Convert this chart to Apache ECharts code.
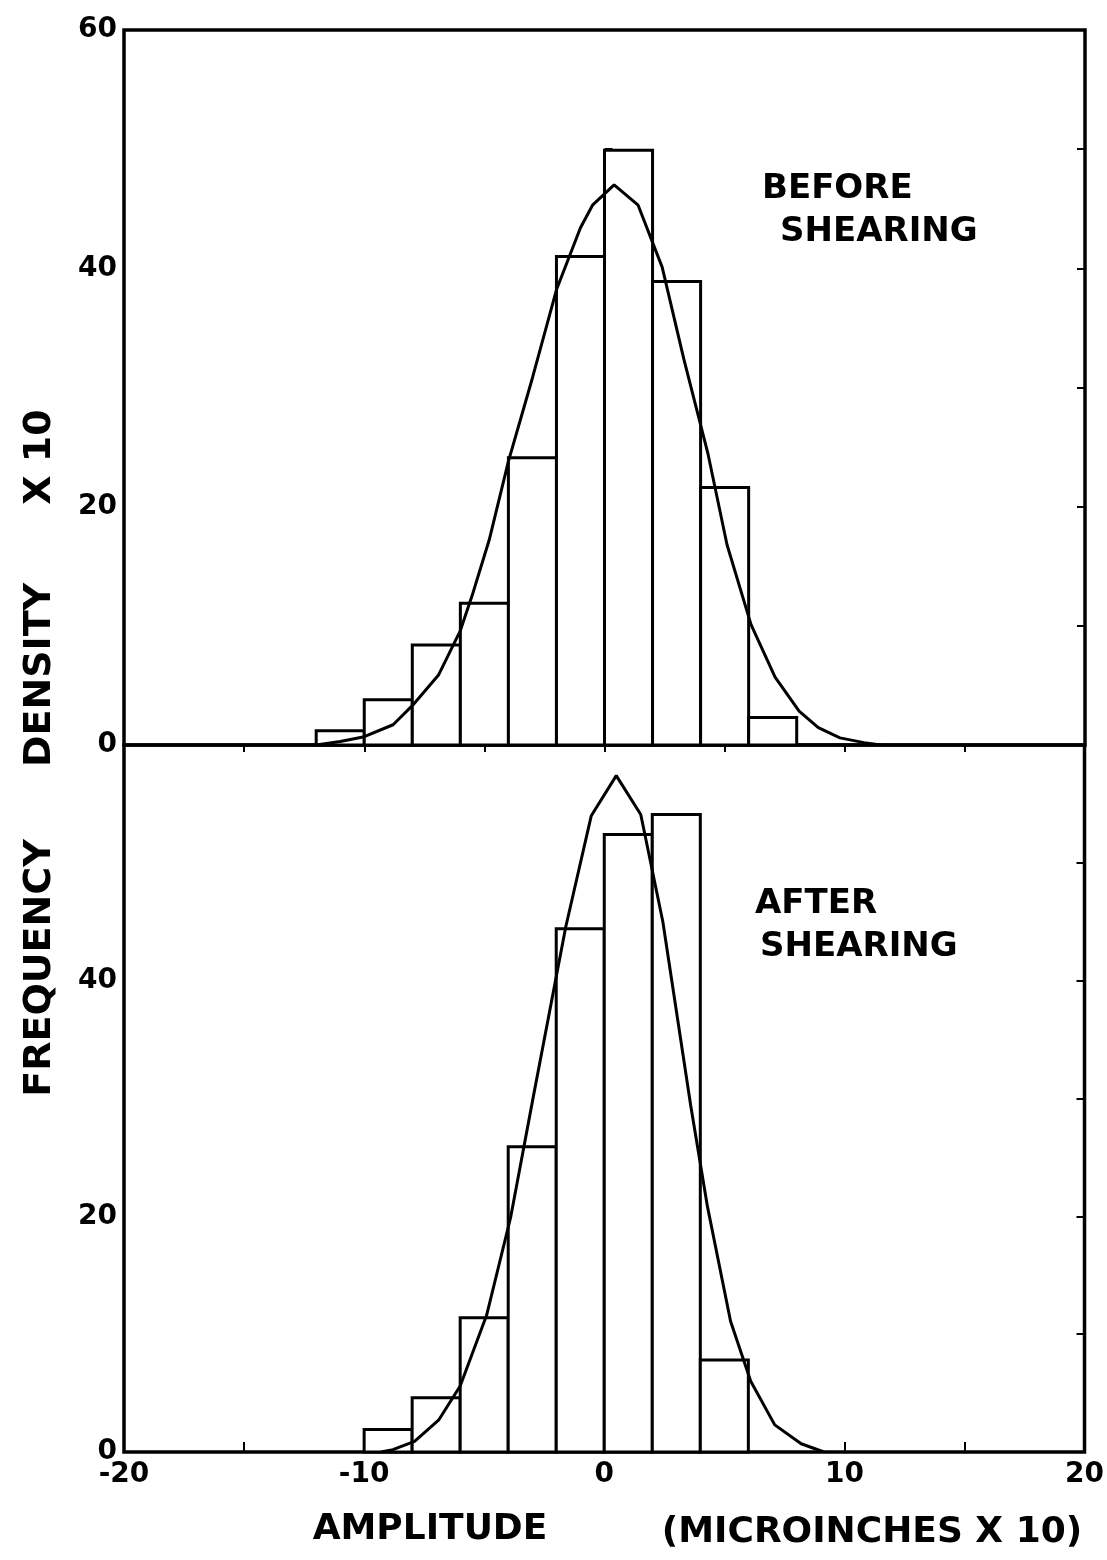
<!DOCTYPE html>
<html>
<head>
<meta charset="utf-8">
<script src="https://cdn.jsdelivr.net/npm/echarts@6/dist/echarts.min.js"></script>
<style>
  html, body { margin: 0; padding: 0; background: #fff; }
  #chart { width: 1107px; height: 1560px; }
</style>
</head>
<body>
<div id="chart"></div>
<script>
// ---- data ----
const topBinEdges = [-12, -10, -8, -6, -4, -2, 0, 2, 4, 6, 8];
const topCounts = [1.2, 3.8, 8.4, 11.9, 24.1, 41.0, 49.9, 38.9, 21.6, 2.3];
const topCurveX = [-12, -11, -10, -8.8, -8, -6.9, -6, -5.5, -4.8, -4, -3, -2, -1, -0.5, 0.4, 1.4, 2.4, 3.3, 4.3, 5.1, 6.1, 7.1, 8.1, 8.9, 9.8, 10.8, 11.5];
const topCurveY = [0, 0.3, 0.7, 1.7, 3.3, 5.9, 9.6, 12.6, 17.2, 23.8, 30.8, 38.2, 43.4, 45.3, 47.0, 45.3, 40.1, 32.4, 24.5, 16.8, 10.1, 5.7, 2.85, 1.45, 0.6, 0.2, 0];

const bottomBinEdges = [-10, -8, -6, -4, -2, 0, 2, 4, 6];
const bottomCounts = [1.9, 4.6, 11.4, 25.9, 44.4, 52.4, 54.1, 7.8];
const bottomCurveX = [-9.3, -8.8, -7.9, -6.9, -6.0, -4.9, -3.9, -2.95, -1.6, -0.54, 0.5, 1.52, 2.44, 3.6, 4.3, 5.26, 6.1, 7.1, 8.2, 9.15];
const bottomCurveY = [0, 0.2, 0.9, 2.7, 5.6, 11.6, 19.9, 30.2, 44.6, 54.0, 57.4, 54.1, 45.0, 29.4, 20.8, 11.1, 6.0, 2.3, 0.7, 0];

const xTickLabels = [-20, -10, 0, 10, 20];
const topYTickLabels = [0, 20, 40, 60];
const bottomYTickLabels = [0, 20, 40];

// ---- build series data ----
function binsToData(edges, counts) {
  return counts.map((c, i) => [edges[i], edges[i + 1], c]);
}
function pairs(xs, ys) { return xs.map((x, i) => [x, ys[i]]); }

const FONT = 'DejaVu Sans';

function renderBar(params, api) {
  const p0 = api.coord([api.value(0), 0]);
  const p1 = api.coord([api.value(1), api.value(2)]);
  return {
    type: 'rect',
    shape: { x: p0[0], y: p1[1], width: p1[0] - p0[0], height: p0[1] - p1[1] },
    style: { fill: '#ffffff', stroke: '#000000', lineWidth: 3 }
  };
}

const chart = echarts.init(document.getElementById('chart'), null, { renderer: 'canvas' });

const axisLabelStyle = { color: '#000', fontFamily: FONT, fontWeight: 'bold', fontSize: 28 };

const option = {
  backgroundColor: '#ffffff',
  animation: false,
  grid: [
    { left: 124, right: 22, top: 30, height: 715, show: true, borderColor: '#000', borderWidth: 3.5, backgroundColor: 'transparent' },
    { left: 124, right: 22, top: 745, height: 707, show: true, borderColor: '#000', borderWidth: 3.5, backgroundColor: 'transparent' }
  ],
  xAxis: [
    {
      gridIndex: 0, type: 'value', min: -20, max: 20, interval: 5,
      axisLine: { show: false }, splitLine: { show: false },
      axisTick: { show: true, inside: false, length: 7, lineStyle: { color: '#000', width: 2 } },
      axisLabel: { show: false }
    },
    {
      gridIndex: 1, type: 'value', min: -20, max: 20, interval: 5,
      axisLine: { show: false }, splitLine: { show: false },
      axisTick: { show: true, inside: true, length: 10, lineStyle: { color: '#000', width: 2 } },
      axisLabel: Object.assign({
        margin: 9, showMinLabel: true, showMaxLabel: true,
        formatter: v => xTickLabels.indexOf(v) >= 0 ? String(v) : ''
      }, axisLabelStyle)
    }
  ],
  yAxis: [
    {
      gridIndex: 0, type: 'value', min: 0, max: 60, interval: 10,
      axisLine: { show: false }, splitLine: { show: false },
      axisTick: { show: true, inside: true, length: 8, lineStyle: { color: '#000', width: 2 } },
      axisLabel: Object.assign({
        margin: 7, showMinLabel: true, showMaxLabel: true,
        formatter: v => topYTickLabels.indexOf(v) >= 0 ? String(v) : ''
      }, axisLabelStyle)
    },
    {
      gridIndex: 1, type: 'value', min: 0, max: 60, interval: 10,
      axisLine: { show: false }, splitLine: { show: false },
      axisTick: { show: true, inside: true, length: 8, lineStyle: { color: '#000', width: 2 } },
      axisLabel: Object.assign({
        margin: 7, showMinLabel: true, showMaxLabel: false,
        formatter: v => bottomYTickLabels.indexOf(v) >= 0 ? String(v) : ''
      }, axisLabelStyle)
    },
    {
      gridIndex: 0, type: 'value', min: 0, max: 60, interval: 10, position: 'right',
      axisLine: { show: false }, splitLine: { show: false },
      axisTick: { show: true, inside: true, length: 8, lineStyle: { color: '#000', width: 2 } },
      axisLabel: { show: false }
    },
    {
      gridIndex: 1, type: 'value', min: 0, max: 60, interval: 10, position: 'right',
      axisLine: { show: false }, splitLine: { show: false },
      axisTick: { show: true, inside: true, length: 8, lineStyle: { color: '#000', width: 2 } },
      axisLabel: { show: false }
    }
  ],
  series: [
    {
      type: 'custom', xAxisIndex: 0, yAxisIndex: 0,
      renderItem: renderBar, encode: { x: [0, 1], y: 2 },
      data: binsToData(topBinEdges, topCounts), z: 2
    },
    {
      type: 'line', xAxisIndex: 0, yAxisIndex: 0, symbol: 'none', smooth: false,
      lineStyle: { color: '#000', width: 3 },
      data: pairs(topCurveX, topCurveY), z: 3
    },
    {
      type: 'custom', xAxisIndex: 1, yAxisIndex: 1,
      renderItem: renderBar, encode: { x: [0, 1], y: 2 },
      data: binsToData(bottomBinEdges, bottomCounts), z: 2
    },
    {
      type: 'line', xAxisIndex: 1, yAxisIndex: 1, symbol: 'none', smooth: false,
      lineStyle: { color: '#000', width: 3 },
      data: pairs(bottomCurveX, bottomCurveY), z: 3
    }
  ],
  graphic: [
    { type: 'text', left: 762, top: 172, style: { text: 'BEFORE', font: 'bold 34px "DejaVu Sans"', fill: '#000' } },
    { type: 'text', left: 780, top: 215, style: { text: 'SHEARING', font: 'bold 34px "DejaVu Sans"', fill: '#000' } },
    { type: 'text', left: 755, top: 887, style: { text: 'AFTER', font: 'bold 34px "DejaVu Sans"', fill: '#000' } },
    { type: 'text', left: 760, top: 930, style: { text: 'SHEARING', font: 'bold 34px "DejaVu Sans"', fill: '#000' } },
    { type: 'text', x: 40, y: 968, rotation: Math.PI / 2, style: { text: 'FREQUENCY', font: 'bold 38px "DejaVu Sans"', fill: '#000', align: 'center', verticalAlign: 'middle' } },
    { type: 'text', x: 40, y: 675, rotation: Math.PI / 2, style: { text: 'DENSITY', font: 'bold 38px "DejaVu Sans"', fill: '#000', align: 'center', verticalAlign: 'middle' } },
    { type: 'text', x: 40, y: 457, rotation: Math.PI / 2, style: { text: 'X 10', font: 'bold 38px "DejaVu Sans"', fill: '#000', align: 'center', verticalAlign: 'middle' } },
    { type: 'text', x: 430, y: 1530, style: { text: 'AMPLITUDE', font: 'bold 36px "DejaVu Sans"', fill: '#000', align: 'center', verticalAlign: 'middle' } },
    { type: 'text', x: 872, y: 1533, style: { text: '(MICROINCHES X 10)', font: 'bold 36px "DejaVu Sans"', fill: '#000', align: 'center', verticalAlign: 'middle' } }
  ]
};

chart.setOption(option);
</script>
</body>
</html>
